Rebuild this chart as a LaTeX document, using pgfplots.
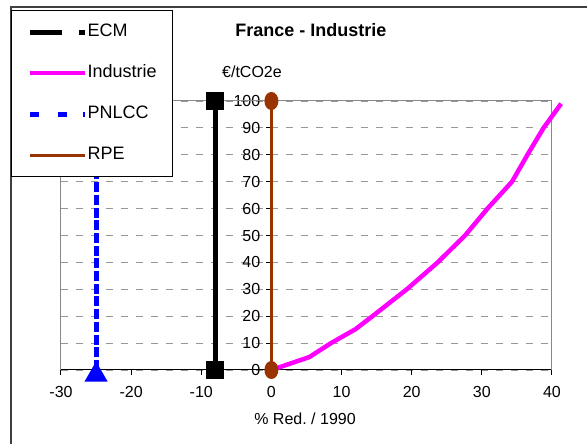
\documentclass[border=0pt]{standalone}
\usepackage{fontspec}
\setmainfont{Liberation Sans}
\usepackage{pgfplots}
\pgfplotsset{compat=1.18}
\definecolor{rpe}{RGB}{153,51,0}
\definecolor{mag}{RGB}{255,0,255}
\definecolor{pblue}{RGB}{0,0,255}
\definecolor{gridgray}{RGB}{150,150,150}
\definecolor{framegray}{RGB}{136,136,136}
\begin{document}
\frenchspacing
\begin{tikzpicture}[x=1pt,y=1pt]
\useasboundingbox (0,0) rectangle (587,444);
\draw[line width=1.8pt, black!75] (11,-5) -- (11,437) -- (600,437);
\begin{axis}[
  at={(61pt,74pt)}, anchor=south west,
  scale only axis, width=491pt, height=269pt,
  xmin=-30, xmax=40, ymin=0, ymax=100,
  axis x line=bottom, axis y line=middle,
  axis line style={black, line width=1pt, -},
  every inner y axis line/.append style={-},
  every outer x axis line/.append style={-},
  xtick={-30,-20,...,40}, ytick={0,10,...,100},
  hide obscured x ticks=false, hide obscured y ticks=false,
  tick align=outside, major tick length=5pt,
  tick style={black, line width=1pt},
  ymajorgrids,
  grid style={gridgray, dash pattern=on 7pt off 8pt, line width=0.9pt},
  clip=false,
  /pgf/number format/assume math mode=true,
  tick label style={font=\fontsize{16}{16}\selectfont},
  xticklabel style={inner sep=0pt, anchor=north, yshift=-11pt},
  yticklabel style={inner sep=0pt, anchor=east, xshift=-6pt},
  title={France - Industrie},
  every axis title/.style={at={(axis description cs:0.509,1.264)}, anchor=center, font=\bfseries\fontsize{18}{18}\selectfont},
  xlabel={\% Red. / 1990},
  every axis x label/.style={at={(axis description cs:0.497,-0.182)}, anchor=center, font=\fontsize{16}{16}\selectfont},
  ylabel={€/tCO2e},
  every axis y label/.style={at={(axis description cs:0.389,1.108)}, anchor=center, font=\fontsize{16}{16}\selectfont},
  legend style={at={(axis description cs:-0.1018,1.338)}, anchor=north west,
    draw=black, line width=1pt, fill=white,
    font=\fontsize{18}{18}\selectfont,
    inner xsep=16pt, inner ysep=13pt, row sep=24pt,
    nodes={inner sep=0pt, text height=13pt, text depth=4pt},
    /tikz/every even column/.append style={column sep=5pt}},
  legend cell align=left,
]
\draw[framegray, line width=1pt] (axis cs:-30,0) -- (axis cs:-30,100) -- (axis cs:40,100) -- (axis cs:40,0);

\addlegendimage{legend image code/.code={\draw[black, line width=5pt] (0pt,0pt) -- (32pt,0pt) (49pt,0pt) -- (55pt,0pt);}}
\addlegendentry{ECM}
\addlegendimage{legend image code/.code={\draw[mag, line width=4.5pt] (0pt,0pt) -- (55pt,0pt);}}
\addlegendentry{Industrie}
\addlegendimage{legend image code/.code={\draw[pblue, line width=5pt] (0pt,0pt) -- (8.5pt,0pt) (28pt,0pt) -- (36.5pt,0pt) (53pt,0pt) -- (55pt,0pt);}}
\addlegendentry{PNLCC}
\addlegendimage{legend image code/.code={\draw[rpe, line width=3pt] (0pt,0pt) -- (55pt,0pt);}}
\addlegendentry{RPE}

\addplot[forget plot, black, line width=5pt, mark=square*, mark size=6.5pt]
  coordinates {(-8,0) (-8,100)};
\addplot[forget plot, mag, line width=4.5pt, line join=round]
  coordinates {(0,0) (5.4,4.8) (8.5,10) (12,15.2) (14.4,20) (19.3,30) (23.7,40) (27.6,50) (30.8,60) (34.3,70) (36.5,80) (38.8,90) (41.3,99)};
\addplot[forget plot, pblue, line width=5pt, dash pattern=on 10pt off 2.7pt, mark=triangle*, mark size=8.5pt, mark options={solid, yshift=-5pt}]
  coordinates {(-25,0) (-25,100)};
\addplot[forget plot, rpe, line width=3pt, mark=*, mark size=7.5pt, mark options={xscale=0.73}]
  coordinates {(0,0) (0,100)};
\end{axis}
\end{tikzpicture}
\end{document}
